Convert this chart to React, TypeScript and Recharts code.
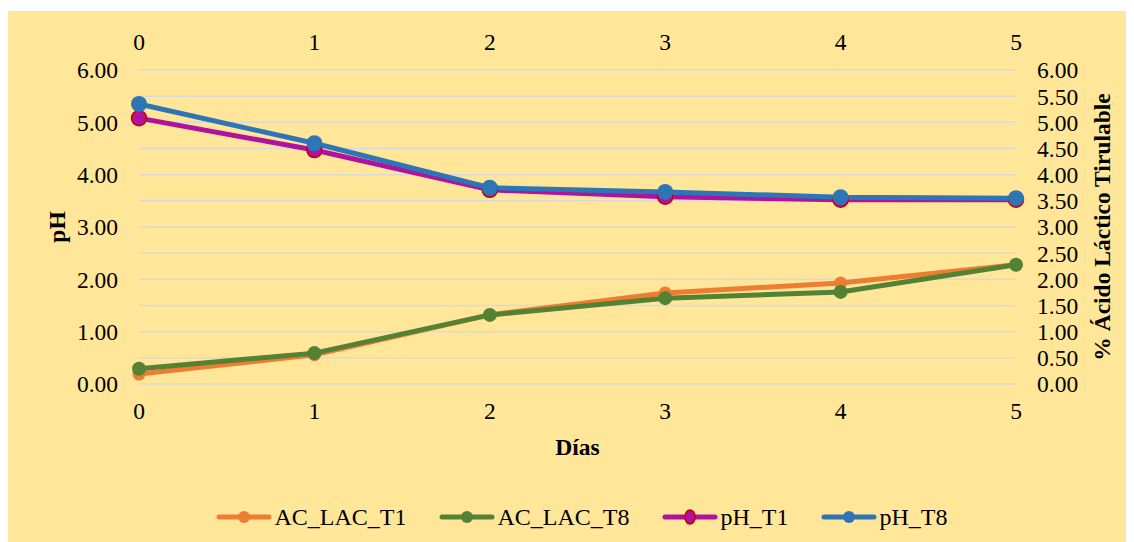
import { LineChart, Line, XAxis, YAxis, CartesianGrid, Legend } from 'recharts';

const days = [0, 1, 2, 3, 4, 5];
const acLacT1 = [0.19, 0.56, 1.32, 1.74, 1.93, 2.28];
const acLacT8 = [0.29, 0.59, 1.32, 1.64, 1.76, 2.28];
const phT1 = [5.08, 4.47, 3.71, 3.58, 3.52, 3.52];
const phT8 = [5.35, 4.6, 3.75, 3.67, 3.57, 3.55];
const leftTicks = [0, 1, 2, 3, 4, 5, 6];
const rightTicks = [0, 0.5, 1, 1.5, 2, 2.5, 3, 3.5, 4, 4.5, 5, 5.5, 6];

const data = days.map((d, i) => ({
  day: d,
  AC_LAC_T1: acLacT1[i],
  AC_LAC_T8: acLacT8[i],
  pH_T1: phT1[i],
  pH_T8: phT8[i],
}));

const FONT = '"Liberation Serif", "Times New Roman", serif';
const tickStyle = { fontSize: 23.5, fill: '#000', style: { fontFamily: FONT } };

const series = [
  { key: 'AC_LAC_T1', color: '#ED7D31', r: 6.5, stroke: '#ED7D31', axis: 'right' },
  { key: 'AC_LAC_T8', color: '#548235', r: 7, stroke: '#548235', axis: 'right' },
  { key: 'pH_T1', color: '#B0119E', r: 7.5, stroke: '#C00000', axis: 'left' },
  { key: 'pH_T8', color: '#2E75B6', r: 8, stroke: '#2E75B6', axis: 'left' },
];

const fmt = (v: number) => v.toFixed(2);

// rotated axis title, dx = distance from the axis box's left edge
function rotatedTitle(text: string, dx: number) {
  return (props: any) => {
    const vb = props.viewBox || {};
    const cx = vb.x + dx;
    const cy = vb.y + vb.height / 2;
    return (
      <text
        x={cx}
        y={cy}
        transform={`rotate(-90 ${cx} ${cy})`}
        textAnchor="middle"
        dominantBaseline="central"
        style={{ fontFamily: FONT, fontSize: 23.5, fontWeight: 'bold', fill: '#000' }}
      >
        {text}
      </text>
    );
  };
}

function LegendContent() {
  return (
    <div style={{ display: 'flex', justifyContent: 'center', alignItems: 'center', height: 40, paddingLeft: 22, gap: 32 }}>
      {series.map((s) => (
        <div key={s.key} style={{ display: 'flex', alignItems: 'center' }}>
          <svg width={56} height={20}>
            <line x1={3} y1={10} x2={53} y2={10} stroke={s.color} strokeWidth={5} strokeLinecap="round" />
            {s.key === 'pH_T1' ? (
              <ellipse cx={28} cy={10} rx={5} ry={7} fill={s.color} stroke={s.stroke} strokeWidth={1.5} />
            ) : (
              <circle cx={28} cy={10} r={6} fill={s.color} />
            )}
          </svg>
          <span style={{ fontFamily: FONT, fontSize: 24, color: '#000', marginLeft: 3 }}>{s.key}</span>
        </div>
      ))}
    </div>
  );
}

export default function App() {
  return (
    <div style={{ marginLeft: -1, marginTop: 3, width: 1127, height: 531, backgroundColor: '#FFE699', fontFamily: FONT }}>
      <LineChart width={1127} height={531} data={data} margin={{ top: 0, right: 0, bottom: 5, left: 0 }}>
        <CartesianGrid vertical={false} yAxisId="right" xAxisId="bottom" stroke="#D9D9D9" strokeWidth={1.5} />
        <XAxis
          xAxisId="top"
          orientation="top"
          dataKey="day"
          type="number"
          domain={[0, 5]}
          ticks={days}
          interval={0}
          height={59}
          axisLine={false}
          tickLine={false}
          tickSize={0}
          tickMargin={20}
          tick={tickStyle}
        />
        <XAxis
          xAxisId="bottom"
          orientation="bottom"
          dataKey="day"
          type="number"
          domain={[0, 5]}
          ticks={days}
          interval={0}
          height={113}
          axisLine={false}
          tickLine={false}
          tickSize={0}
          tickMargin={18}
          tick={tickStyle}
          label={{
            value: 'Días',
            position: 'insideBottom',
            offset: 42,
            style: { fontFamily: FONT, fontSize: 23.5, fontWeight: 'bold', fill: '#000' },
          }}
        />
        <YAxis
          yAxisId="left"
          orientation="left"
          width={132}
          domain={[0, 6]}
          ticks={leftTicks}
          interval={0}
          tickFormatter={fmt}
          axisLine={false}
          tickLine={false}
          tickSize={0}
          tickMargin={21}
          tick={tickStyle}
          label={rotatedTitle('pH', 50)}
        />
        <YAxis
          yAxisId="right"
          orientation="right"
          width={118}
          domain={[0, 6]}
          ticks={rightTicks}
          interval={0}
          tickFormatter={fmt}
          axisLine={false}
          tickLine={false}
          tickSize={0}
          tickMargin={21}
          tick={tickStyle}
          label={rotatedTitle('% Ácido Láctico Tirulable', 86)}
        />
        <Legend verticalAlign="bottom" content={<LegendContent />} />
        {series.map((s) => (
          <Line
            key={s.key}
            xAxisId="bottom"
            yAxisId={s.axis}
            dataKey={s.key}
            type="linear"
            stroke={s.color}
            strokeWidth={5}
            dot={{ r: s.r, fill: s.color, stroke: s.stroke, strokeWidth: s.key === 'pH_T1' ? 1.5 : 0 }}
            activeDot={false}
            isAnimationActive={false}
          />
        ))}
      </LineChart>
    </div>
  );
}
